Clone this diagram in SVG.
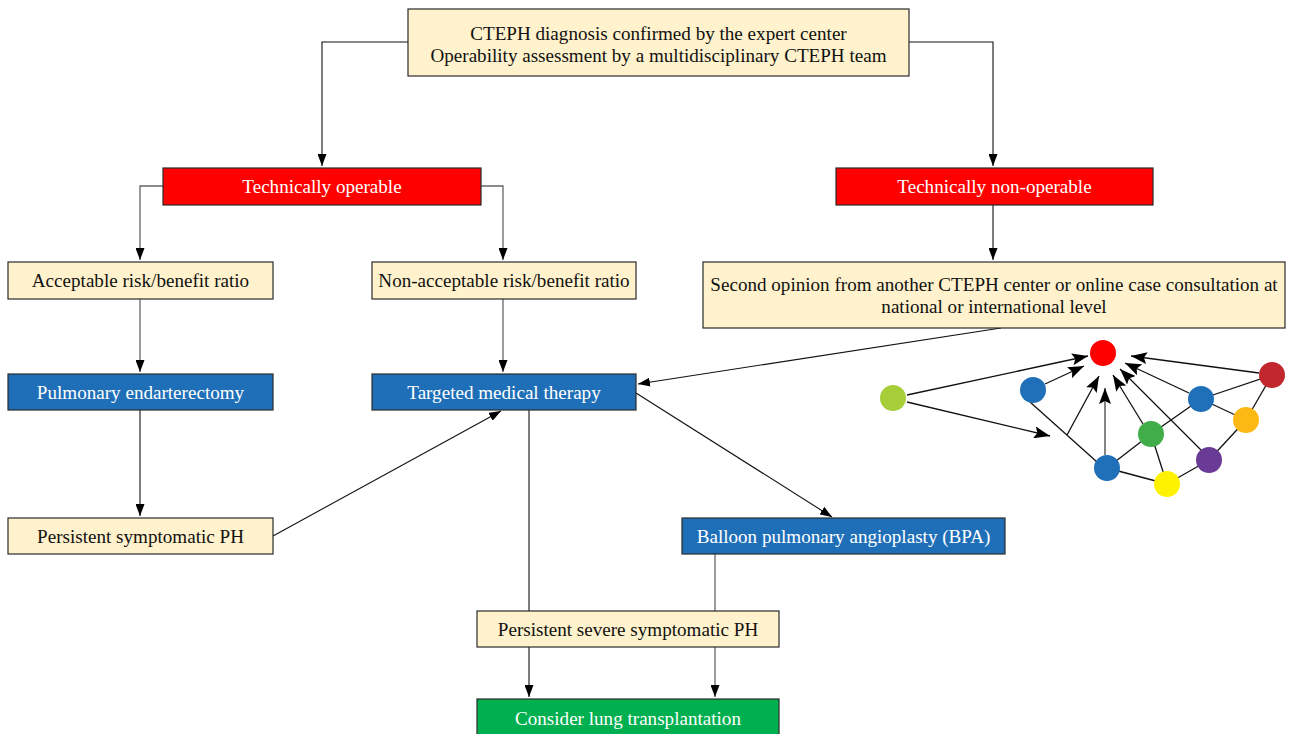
<svg xmlns="http://www.w3.org/2000/svg" width="1289" height="734" viewBox="0 0 1289 734">
<defs>
<style>
.box{stroke:#2a2a2a;stroke-width:1.2}
.cream{fill:#FFF2CC}
.red{fill:#FF0000}
.blue{fill:#1F6FB8}
.green{fill:#00B050}
.t{font-family:"Liberation Serif","Times New Roman",serif;font-size:19.1px;text-anchor:middle}
.dark{fill:#111}
.light{fill:#fff}
.c{fill:none;stroke:#111;stroke-width:1.1}
.g{fill:none;stroke:#666;stroke-width:1.3}
.n{fill:none;stroke:#111;stroke-width:1.3}
</style>
<marker id="ah" viewBox="0 0 12 9" refX="12" refY="4.5" markerWidth="12" markerHeight="9" markerUnits="userSpaceOnUse" orient="auto">
<path d="M0,0 L12,4.5 L0,9 z" fill="#000"/>
</marker>
<marker id="ah2" viewBox="0 0 16 12" refX="16" refY="6" markerWidth="16" markerHeight="12" markerUnits="userSpaceOnUse" orient="auto">
<path d="M0,0 L16,6 L0,12 L3,6 z" fill="#000"/>
</marker>
</defs>
<rect width="1289" height="734" fill="#fff"/>

<g id="connectors">
<path class="c" d="M408,42 H322 V166" marker-end="url(#ah)"/>
<path class="c" d="M909,42 H993 V166" marker-end="url(#ah)"/>
<path class="g" d="M163,186 H140 V260" marker-end="url(#ah)"/>
<path class="g" d="M481,186 H503 V260" marker-end="url(#ah)"/>
<path class="c" d="M993,205 V260" marker-end="url(#ah)"/>
<path class="g" d="M140,299 V372" marker-end="url(#ah)"/>
<path class="g" d="M503,299 V372" marker-end="url(#ah)"/>
<path class="c" d="M140,410 V516" marker-end="url(#ah)"/>
<path class="c" d="M273,536 L501,411" marker-end="url(#ah)"/>
<path class="c" d="M1001,328 L638,384" marker-end="url(#ah)"/>
<path class="c" d="M636,393 L832,517" marker-end="url(#ah)"/>
<path class="c" d="M529,410 V611"/>
<path class="g" d="M715,554 V611"/>
<path class="c" d="M529,647 V697" marker-end="url(#ah)"/>
<path class="g" d="M715,647 V697" marker-end="url(#ah)"/>
</g>

<g id="n1">
<rect class="box cream" x="408" y="9" width="501" height="67"/>
<text class="t dark" x="658.5" y="39.5">CTEPH diagnosis confirmed by the expert center</text>
<text class="t dark" x="658.5" y="61.5">Operability assessment by a multidisciplinary CTEPH team</text>
</g>
<g id="n2">
<rect class="box red" x="163" y="168" width="318" height="37"/>
<text class="t light" x="322" y="193">Technically operable</text>
</g>
<g id="n3">
<rect class="box red" x="836" y="168" width="317" height="37"/>
<text class="t light" x="994.5" y="193">Technically non-operable</text>
</g>
<g id="n4">
<rect class="box cream" x="8" y="262" width="265" height="37"/>
<text class="t dark" x="140.5" y="287">Acceptable risk/benefit ratio</text>
</g>
<g id="n5">
<rect class="box cream" x="372" y="262" width="264" height="37"/>
<text class="t dark" x="504" y="287">Non-acceptable risk/benefit ratio</text>
</g>
<g id="n6">
<rect class="box cream" x="703" y="262" width="582" height="66"/>
<text class="t dark" x="994" y="290.5">Second opinion from another CTEPH center or online case consultation at</text>
<text class="t dark" x="994" y="312.5">national or international level</text>
</g>
<g id="n7">
<rect class="box blue" x="8" y="374" width="265" height="36"/>
<text class="t light" x="140.5" y="398.5">Pulmonary endarterectomy</text>
</g>
<g id="n8">
<rect class="box blue" x="372" y="374" width="264" height="36"/>
<text class="t light" x="504" y="398.5">Targeted medical therapy</text>
</g>
<g id="n9">
<rect class="box cream" x="8" y="518" width="265" height="36"/>
<text class="t dark" x="140.5" y="542.5">Persistent symptomatic PH</text>
</g>
<g id="n10">
<rect class="box blue" x="682" y="518" width="323" height="36"/>
<text class="t light" x="843.5" y="542.5">Balloon pulmonary angioplasty (BPA)</text>
</g>
<g id="n11">
<rect class="box cream" x="477" y="611" width="302" height="36"/>
<text class="t dark" x="628" y="635.5">Persistent severe symptomatic PH</text>
</g>
<g id="n12">
<rect class="box green" x="477" y="699" width="302" height="45"/>
<text class="t light" x="628" y="725">Consider lung transplantation</text>
</g>

<g id="network">
<line class="n" x1="1030" y1="402" x2="1097" y2="462"/>
<line class="n" x1="1201" y1="399" x2="1272" y2="375"/>
<line class="n" x1="1201" y1="399" x2="1246" y2="420"/>
<line class="n" x1="1272" y1="375" x2="1246" y2="420"/>
<line class="n" x1="1201" y1="399" x2="1151" y2="434"/>
<line class="n" x1="1151" y1="434" x2="1107" y2="468"/>
<line class="n" x1="1151" y1="434" x2="1167" y2="484"/>
<line class="n" x1="1246" y1="420" x2="1209" y2="460"/>
<line class="n" x1="1209" y1="460" x2="1167" y2="484"/>
<line class="n" x1="1107" y1="468" x2="1167" y2="484"/>
<line class="n" x1="907" y1="395" x2="1088" y2="356" marker-end="url(#ah2)"/>
<line class="n" x1="907" y1="402" x2="1050" y2="436" marker-end="url(#ah2)"/>
<line class="n" x1="1045" y1="384" x2="1084" y2="366" marker-end="url(#ah2)"/>
<line class="n" x1="1067" y1="435" x2="1099" y2="376" marker-end="url(#ah2)"/>
<line x1="1105" y1="455" x2="1105" y2="388" stroke="#777" stroke-width="1.8" marker-end="url(#ah2)"/>
<line class="n" x1="1143" y1="424" x2="1113" y2="375" marker-end="url(#ah2)"/>
<line class="n" x1="1202" y1="451" x2="1120" y2="369" marker-end="url(#ah2)"/>
<line class="n" x1="1189" y1="393" x2="1125" y2="363" marker-end="url(#ah2)"/>
<line class="n" x1="1259" y1="373" x2="1131" y2="356" marker-end="url(#ah2)"/>
<circle cx="1103" cy="353" r="13" fill="#FF0000"/>
<circle cx="893" cy="398" r="13" fill="#A6CE39"/>
<circle cx="1033" cy="390" r="13" fill="#1F70B8"/>
<circle cx="1272" cy="375" r="13" fill="#C1272D"/>
<circle cx="1201" cy="399" r="13" fill="#1F70B8"/>
<circle cx="1246" cy="420" r="13" fill="#FDB913"/>
<circle cx="1151" cy="434" r="13" fill="#40AD48"/>
<circle cx="1209" cy="460" r="13" fill="#6A3B96"/>
<circle cx="1107" cy="468" r="13" fill="#1F70B8"/>
<circle cx="1167" cy="484" r="13" fill="#FFF200"/>
</g>
</svg>
